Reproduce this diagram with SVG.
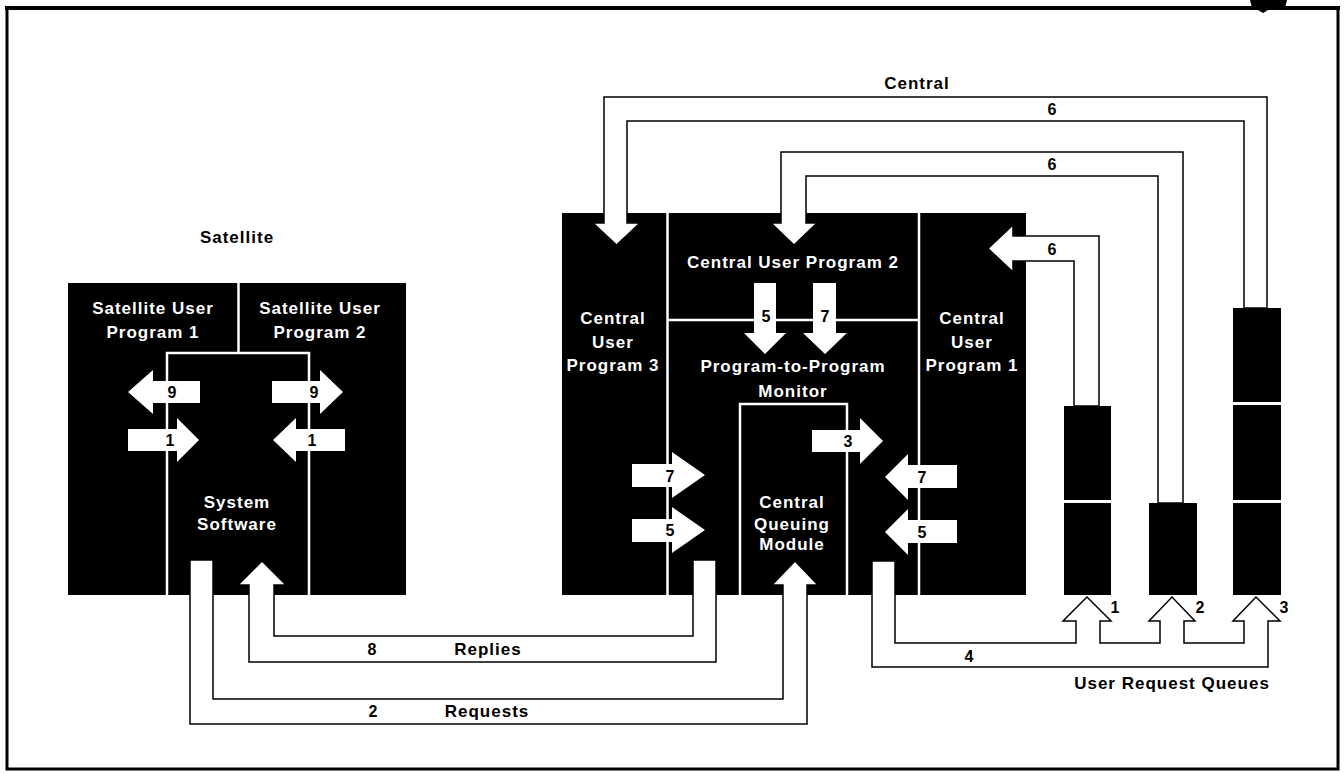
<svg xmlns="http://www.w3.org/2000/svg" width="1344" height="773" viewBox="0 0 1344 773">
<style>
.blk{fill:#000}
.sep{stroke:#fff;stroke-width:2.5;fill:none}
.wa{fill:#fff;stroke:none}
.band{fill:#fff;stroke:#000;stroke-width:1.5;stroke-linejoin:miter}
.lw{font-family:"Liberation Sans",Arial,sans-serif;font-weight:bold;font-size:17px;fill:#fff;text-anchor:middle;letter-spacing:1px}
.lb{font-family:"Liberation Sans",Arial,sans-serif;font-weight:bold;font-size:17px;fill:#000;text-anchor:middle;letter-spacing:1px}
.num{font-family:"Liberation Sans",Arial,sans-serif;font-weight:bold;font-size:16px;fill:#000;text-anchor:middle}
</style>
<rect width="1344" height="773" fill="#fff"/>
<g id="frame">
<rect x="7" y="8" width="1331" height="761" fill="none" stroke="#000" stroke-width="3"/>
<line x1="5" y1="8" x2="1340" y2="8" stroke="#000" stroke-width="4"/>
<polygon points="1250,0 1287,0 1285,8 1268,10 1263,13 1258,10 1252,8" fill="#000"/>
</g>
<g id="title-satellite"><text class="lb" x="237" y="243">Satellite</text></g>
<g id="title-central"><text class="lb" x="917" y="89">Central</text></g>

<g id="satellite-block">
<rect class="blk" x="68" y="283" width="338" height="312"/>
<line class="sep" x1="238.5" y1="283" x2="238.5" y2="353"/>
<polyline class="sep" points="167,595 167,353 309,353 309,595"/>
</g>
<g id="satellite-user-program-1"><text class="lw" x="153" y="314">Satellite User</text><text class="lw" x="153" y="338">Program 1</text></g>
<g id="satellite-user-program-2"><text class="lw" x="320" y="314">Satellite User</text><text class="lw" x="320" y="338">Program 2</text></g>
<g id="system-software"><text class="lw" x="237" y="508">System</text><text class="lw" x="237" y="530">Software</text></g>

<g id="central-block">
<rect class="blk" x="562" y="213" width="464" height="382"/>
<line class="sep" x1="667.5" y1="213" x2="667.5" y2="595"/>
<line class="sep" x1="919" y1="213" x2="919" y2="595"/>
<line class="sep" x1="667" y1="320" x2="919" y2="320"/>
<polyline class="sep" points="740,595 740,404 847,404 847,595"/>
</g>
<g id="central-user-program-3"><text class="lw" x="613" y="324">Central</text><text class="lw" x="613" y="348">User</text><text class="lw" x="613" y="371">Program 3</text></g>
<g id="central-user-program-2"><text class="lw" x="793" y="268">Central User Program 2</text></g>
<g id="central-user-program-1"><text class="lw" x="972" y="324">Central</text><text class="lw" x="972" y="348">User</text><text class="lw" x="972" y="371">Program 1</text></g>
<g id="program-to-program-monitor"><text class="lw" x="793" y="372">Program-to-Program</text><text class="lw" x="793" y="397">Monitor</text></g>
<g id="central-queuing-module"><text class="lw" x="792" y="508">Central</text><text class="lw" x="792" y="530">Queuing</text><text class="lw" x="792" y="550">Module</text></g>

<g id="queue-1"><rect class="blk" x="1064" y="406" width="47" height="94"/><rect class="blk" x="1064" y="503" width="47" height="92"/></g>
<g id="queue-2"><rect class="blk" x="1149" y="503" width="48" height="92"/></g>
<g id="queue-3"><rect class="blk" x="1233" y="308" width="48" height="94"/><rect class="blk" x="1233" y="405" width="48" height="95"/><rect class="blk" x="1233" y="503" width="48" height="92"/></g>
<g id="user-request-queues-label"><text class="lb" x="1172" y="689">User Request Queues</text></g>

<g id="connectors">
<path class="band" d="M1267,308 V97 H604 V223 H593 L616.5,245 L640,223 H627 V121 H1244 V308 Z"/>
<path class="band" d="M1183,503 V152 H781 V223 H771 L794,245 L817,223 H806 V176 H1158 V503 Z"/>
<path class="band" d="M1099,406 V236 H1013 V225 L988,248.5 L1013,272 V261 H1074 V406 Z"/>
<path class="band" d="M693,560 H716 V662 H249 V585 H238 L262,561 L286,585 H274 V636 H693 Z"/>
<path class="band" d="M190,560 H213 V699 H783 V585 H772 L795,561 L818,585 H807 V724 H190 Z"/>
<path class="band" d="M872,561 H895 V643 H1076 V621 H1063 L1087,597 L1111,621 H1100 V643 H1160 V621 H1149 L1172,597 L1195,621 H1184 V643 H1244 V621 H1233 L1256,597 L1280,621 H1268 V667 H872 Z"/>
<polygon class="wa" points="128,392 153,370 153,381 200,381 200,403 153,403 153,414"/>
<polygon class="wa" points="343,392 320,370 320,381 272,381 272,403 320,403 320,414"/>
<polygon class="wa" points="199,440 177,418 177,429 128,429 128,451 177,451 177,462"/>
<polygon class="wa" points="273,440 296,418 296,429 345,429 345,451 296,451 296,462"/>
<polygon class="wa" points="705,475 672,452 672,464 632,464 632,487 672,487 672,498"/>
<polygon class="wa" points="705,530 672,507 672,519 632,519 632,542 672,542 672,553"/>
<polygon class="wa" points="885,477 908,454 908,465 957,465 957,488 908,488 908,500"/>
<polygon class="wa" points="885,532 908,509 908,520 957,520 957,543 908,543 908,555"/>
<polygon class="wa" points="883,441 860,418 860,430 812,430 812,452 860,452 860,464"/>
<polygon class="wa" points="754,283 776,283 776,333 786,333 765,354 744,333 754,333"/>
<polygon class="wa" points="813,283 836,283 836,333 847,333 825,354 803,333 813,333"/>
<text class="num" x="172" y="398">9</text>
<text class="num" x="314" y="398">9</text>
<text class="num" x="170" y="446">1</text>
<text class="num" x="312" y="446">1</text>
<text class="num" x="670" y="482">7</text>
<text class="num" x="670" y="536">5</text>
<text class="num" x="922" y="483">7</text>
<text class="num" x="922" y="538">5</text>
<text class="num" x="848" y="447">3</text>
<text class="num" x="766" y="322">5</text>
<text class="num" x="825" y="322">7</text>
<text class="num" x="1052" y="115">6</text>
<text class="num" x="1052" y="170">6</text>
<text class="num" x="1052" y="255">6</text>
<text class="num" x="372" y="655">8</text>
<text class="num" x="373" y="717">2</text>
<text class="num" x="969" y="662">4</text>
<text class="num" x="1115" y="613">1</text>
<text class="num" x="1200" y="613">2</text>
<text class="num" x="1284" y="613">3</text>
<text class="lb" x="488" y="655">Replies</text>
<text class="lb" x="487" y="717">Requests</text>
</g>
</svg>
